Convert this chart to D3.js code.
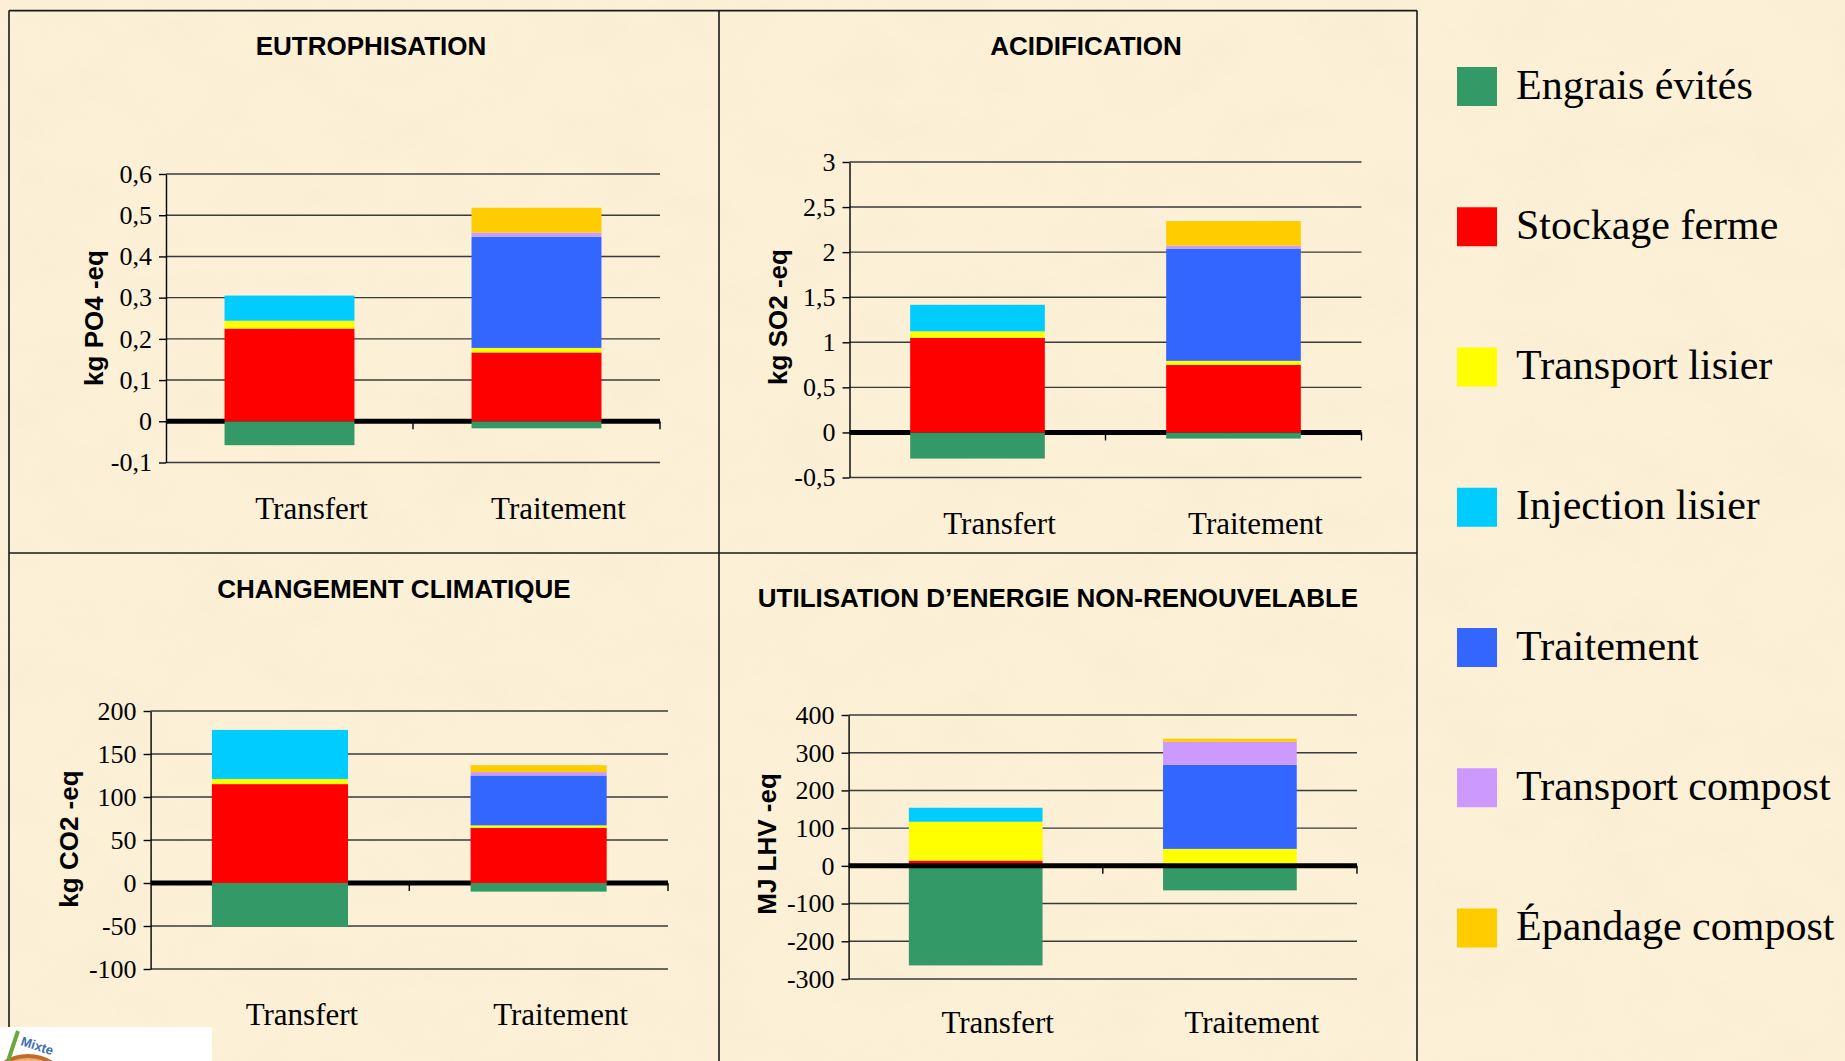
<!DOCTYPE html>
<html lang="fr">
<head>
  <meta charset="UTF-8" />
  <title>Analyse de cycle de vie - lisier</title>
  <script src="https://d3js.org/d3.v7.min.js"></script>
  <style>
    body {
      margin: 0;
      background: #fcf0d7;
    }
    svg {
      display: block;
    }
    .title {
      font-family: "Liberation Sans", Arial, sans-serif;
      font-weight: bold;
      font-size: 26px;
      fill: #000;
    }
    .ylabel {
      font-family: "Liberation Sans", Arial, sans-serif;
      font-weight: bold;
      font-size: 26px;
    }
    .tick text {
      font-family: "Liberation Serif", "Times New Roman", serif;
      font-size: 26px;
      fill: #000;
    }
    .cat {
      font-family: "Liberation Serif", "Times New Roman", serif;
      font-size: 31px;
    }
    .legend text {
      font-family: "Liberation Serif", "Times New Roman", serif;
      font-size: 42px;
    }
  </style>
</head>
<body>

<svg width="1845" height="1061"></svg>

<script>
  // stacking order, same as the legend
  const series = ["Engrais évités", "Stockage ferme", "Transport lisier", "Injection lisier",
                  "Traitement", "Transport compost", "Épandage compost"];
  const colors = ["#339966", "#ff0000", "#ffff00", "#00ccff", "#3366ff", "#cc99ff", "#ffcc00"];
  const categories = ["Transfert", "Traitement"];

  // values per category, in the order of `series`
  const eutroTransfert = [-0.058, 0.225, 0.019, 0.061, 0, 0, 0];
  const eutroTraitement = [-0.017, 0.167, 0.011, 0, 0.270, 0.010, 0.060];
  const eutroTicks = [-0.1, 0, 0.1, 0.2, 0.3, 0.4, 0.5, 0.6];

  const acidTransfert = [-0.29, 1.05, 0.072, 0.294, 0, 0, 0];
  const acidTraitement = [-0.068, 0.75, 0.044, 0, 1.246, 0.032, 0.273];
  const acidTicks = [-0.5, 0, 0.5, 1, 1.5, 2, 2.5, 3];

  const climTransfert = [-51, 115, 6, 57, 0, 0, 0];
  const climTraitement = [-10, 64, 3, 0, 58, 4, 8];
  const climTicks = [-100, -50, 0, 50, 100, 150, 200];

  const energTransfert = [-264, 14, 103, 37, 0, 0, 0];
  const energTraitement = [-65, 2, 43, 0, 223, 61, 8];
  const energTicks = [-300, -200, -100, 0, 100, 200, 300, 400];

  const svg = d3.select("svg");

  // parchment background
  const defs = svg.append("defs");
  const f = defs.append("filter").attr("id", "paper")
    .attr("x", 0).attr("y", 0).attr("width", "100%").attr("height", "100%");
  f.append("feTurbulence").attr("type", "fractalNoise")
    .attr("baseFrequency", "0.012 0.018").attr("numOctaves", 4).attr("seed", 7);
  f.append("feColorMatrix").attr("type", "matrix")
    .attr("values", "0 0 0 0 0.90  0 0 0 0 0.80  0 0 0 0 0.58  0.9 0 0 0 -0.38");
  svg.append("rect").attr("width", 1845).attr("height", 1061).attr("fill", "#fcf0d7");
  svg.append("rect").attr("width", 1845).attr("height", 1061)
    .attr("filter", "url(#paper)").attr("opacity", 0.6);

  const panels = [
    { title: "EUTROPHISATION", ylabel: "kg PO4 -eq", values: [eutroTransfert, eutroTraitement], ticks: eutroTicks,
      x0: 166, x1: 660, yTop: 174, yBot: 462.5, tx: 371, ty: 55, lx: 94, ly: 318, catY: 519, zeroOnTop: false },
    { title: "ACIDIFICATION", ylabel: "kg SO2 -eq", values: [acidTransfert, acidTraitement], ticks: acidTicks,
      x0: 849.5, x1: 1361.5, yTop: 162, yBot: 477.5, tx: 1086, ty: 55, lx: 778, ly: 317, catY: 534, zeroOnTop: false },
    { title: "CHANGEMENT CLIMATIQUE", ylabel: "kg CO2 -eq", values: [climTransfert, climTraitement], ticks: climTicks,
      x0: 150.6, x1: 668, yTop: 711, yBot: 969, tx: 394, ty: 598, lx: 69, ly: 839, catY: 1025, zeroOnTop: false },
    { title: "UTILISATION D’ENERGIE NON-RENOUVELABLE", ylabel: "MJ LHV -eq", values: [energTransfert, energTraitement], ticks: energTicks,
      x0: 848.6, x1: 1357, yTop: 715, yBot: 979, tx: 1058, ty: 607, lx: 767, ly: 844, catY: 1033, zeroOnTop: true }
  ];

  const fmt = v => String(v).replace(".", ",");

  panels.forEach(p => {
    const g = svg.append("g");

    const x = d3.scaleBand()
      .domain(categories)
      .range([p.x0, p.x1])
      .paddingInner(0.474)
      .paddingOuter(0.237);

    const y = d3.scaleLinear()
      .domain(d3.extent(p.ticks))
      .range([p.yBot, p.yTop]);

    // gridlines
    g.append("g").selectAll("line")
      .data(p.ticks.filter(t => t !== 0))
      .join("line")
      .attr("x1", p.x0).attr("x2", p.x1)
      .attr("y1", d => y(d)).attr("y2", d => y(d))
      .attr("stroke", "#3a3a3a").attr("stroke-width", 1.4);

    const rows = categories.map((c, i) => {
      const row = { cat: c };
      series.forEach((s, j) => row[s] = p.values[i][j]);
      return row;
    });
    const stacked = d3.stack().keys(series).offset(d3.stackOffsetDiverging)(rows);

    const zero = () => g.append("line")
      .attr("x1", p.x0).attr("x2", p.x1)
      .attr("y1", y(0)).attr("y2", y(0))
      .attr("stroke", "#000").attr("stroke-width", 5);

    if (!p.zeroOnTop) zero();

    g.append("g").selectAll("g")
      .data(stacked)
      .join("g")
      .attr("fill", (d, i) => colors[i])
      .selectAll("rect")
      .data(d => d)
      .join("rect")
      .attr("x", d => x(d.data.cat))
      .attr("y", d => y(Math.max(d[0], d[1])))
      .attr("width", x.bandwidth())
      .attr("height", d => Math.abs(y(d[0]) - y(d[1])));

    if (p.zeroOnTop) zero();

    // category separators under the zero line
    g.append("g").selectAll("line")
      .data([1, 2])
      .join("line")
      .attr("x1", d => p.x0 + d * x.step()).attr("x2", d => p.x0 + d * x.step())
      .attr("y1", y(0)).attr("y2", y(0) + 8)
      .attr("stroke", "#000").attr("stroke-width", 1.4);

    // y axis
    g.append("g")
      .attr("transform", `translate(${p.x0},0)`)
      .call(d3.axisLeft(y).tickValues(p.ticks).tickFormat(fmt).tickSize(7).tickSizeOuter(0).tickPadding(7))
      .call(a => a.selectAll("path, line").attr("stroke", "#000").attr("stroke-width", 1.4))
      .call(a => a.selectAll(".tick text").attr("font-size", null).attr("font-family", null));

    // category labels
    g.append("g").selectAll("text")
      .data(categories)
      .join("text")
      .attr("class", "cat")
      .attr("x", d => x(d) + x.bandwidth() / 2 + 22)
      .attr("y", p.catY)
      .attr("text-anchor", "middle")
      .text(d => d);

    g.append("text")
      .attr("class", "title")
      .attr("x", p.tx).attr("y", p.ty)
      .attr("text-anchor", "middle")
      .text(p.title);

    g.append("text")
      .attr("class", "ylabel")
      .attr("transform", `translate(${p.lx + 9},${p.ly}) rotate(-90)`)
      .attr("text-anchor", "middle")
      .text(p.ylabel);
  });

  // panel frame
  const frame = svg.append("g").attr("stroke", "#1a1a1a").attr("stroke-width", 1.6);
  [[9, 10.6, 1417, 10.6], [9, 553, 1417, 553], [9, 10.6, 9, 1061], [719, 10.6, 719, 1061], [1417, 10.6, 1417, 1061]]
    .forEach(l => frame.append("line").attr("x1", l[0]).attr("y1", l[1]).attr("x2", l[2]).attr("y2", l[3]));

  // legend
  const legend = svg.append("g").attr("class", "legend");
  const ly = d3.scalePoint().domain(series).range([86.5, 928]);
  legend.selectAll("rect")
    .data(series)
    .join("rect")
    .attr("x", 1457).attr("y", d => ly(d) - 19.5)
    .attr("width", 40).attr("height", 39)
    .attr("fill", (d, i) => colors[i]);
  legend.selectAll("text")
    .data(series)
    .join("text")
    .attr("x", 1516).attr("y", d => ly(d) + 12)
    .text(d => d);

  // partial logo at bottom left
  const logo = svg.append("g");
  logo.append("rect").attr("x", 0).attr("y", 1027).attr("width", 212).attr("height", 34).attr("fill", "#fff");
  logo.append("circle").attr("cx", 28).attr("cy", 1100).attr("r", 44)
    .attr("fill", "#e9b27a").attr("stroke", "#c46a2a").attr("stroke-width", 4);
  logo.append("line").attr("x1", 8).attr("y1", 1061).attr("x2", 18).attr("y2", 1031)
    .attr("stroke", "#6aa83a").attr("stroke-width", 4);
  logo.append("text").attr("x", 20).attr("y", 1045).attr("fill", "#3d6fb6")
    .attr("font-family", "Liberation Sans, Arial, sans-serif").attr("font-size", 13).attr("font-weight", "bold")
    .attr("transform", "rotate(18,20,1045)").text("Mixte");
</script>

</body>
</html>
